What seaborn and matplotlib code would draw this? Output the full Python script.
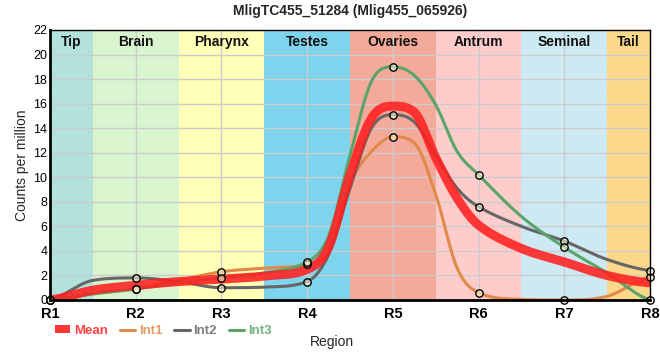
import numpy as np
import pandas as pd
import matplotlib
matplotlib.use("Agg")
import matplotlib.pyplot as plt
import seaborn as sns
from matplotlib.patches import Patch
from matplotlib.lines import Line2D

regions = ["R1", "R2", "R3", "R4", "R5", "R6", "R7", "R8"]
# values at the regions (marker points)
int1 = [0.0, 0.9, 2.3, 2.9, 13.3, 0.6, 0.0, 1.9]
int2 = [0.0, 1.8, 1.0, 1.5, 15.1, 7.6, 4.8, 2.4]
int3 = [0.0, 0.9, 1.8, 3.1, 19.0, 10.2, 4.3, 0.0]
mean = [0.0, 1.2, 1.7, 2.5, 15.8, 6.1, 3.1, 1.4]
# curve values read at the band borders (R1.5 ... R7.5)
int1_mid = [0.5, 1.6, 2.6, 9.5, 8.6, 0.05, 0.3]
int2_mid = [1.6, 1.5, 1.05, 9.1, 11.8, 6.0, 3.3]
int3_mid = [0.5, 1.4, 2.2, 11.8, 15.9, 6.8, 2.2]
mean_mid = [0.8, 1.5, 1.95, 10.2, 11.6, 4.2, 2.0]
# curve values read at R4.25, R4.75, R5.25, R5.75
quarter_pos = [3.25, 3.75, 4.25, 4.75]
int1_q = [4.0, 12.1, 12.8, 2.6]
int2_q = [3.7, 14.0, 14.5, 9.1]
int3_q = [5.2, 17.8, 18.3, 12.1]
mean_q = [4.3, 14.8, 15.3, 8.3]

band_names = ["Tip", "Brain", "Pharynx", "Testes", "Ovaries", "Antrum", "Seminal", "Tail"]
band_colors = ["#b3e2dd", "#d8f5d0", "#ffffb8", "#7dd4ec", "#f4aa9b", "#ffcccc", "#cdeaf4", "#fcd98a"]

series_colors = {"Mean": "#ff2020", "Int1": "#e08a4a", "Int2": "#666666", "Int3": "#5aa469"}


def knots(vals, mids, qs):
    xs = list(np.arange(len(vals), dtype=float)) + [i + 0.5 for i in range(len(mids))] + list(quarter_pos)
    ys = list(vals) + list(mids) + list(qs)
    order = np.argsort(xs)
    return np.array(xs)[order], np.array(ys, float)[order]


def smooth_curve(x, y, n=24):
    h = np.diff(x)
    d = np.diff(y) / h
    m = np.zeros_like(y)
    for i in range(1, len(y) - 1):
        if d[i - 1] * d[i] > 0:
            mi = (y[i + 1] - y[i - 1]) / (x[i + 1] - x[i - 1])
            lim = 3 * min(abs(d[i - 1]), abs(d[i]))
            m[i] = np.sign(mi) * min(abs(mi), lim)
    m[0] = d[0] * 0.5
    m[-1] = d[-1] * 0.5
    xs, ys = [], []
    for i in range(len(y) - 1):
        t = np.linspace(0, 1, n, endpoint=(i == len(y) - 2))
        h00 = 2 * t**3 - 3 * t**2 + 1
        h10 = t**3 - 2 * t**2 + t
        h01 = -2 * t**3 + 3 * t**2
        h11 = t**3 - t**2
        xs.append(x[i] + t * h[i])
        ys.append(h00 * y[i] + h10 * h[i] * m[i] + h01 * y[i + 1] + h11 * h[i] * m[i + 1])
    return np.concatenate(xs), np.concatenate(ys)


sns.set_theme(style="white")
plt.rcParams["font.family"] = ["Liberation Sans", "DejaVu Sans"]

fig = plt.figure(figsize=(6.6, 3.6), dpi=100)
ax = fig.add_axes([50 / 660, 60 / 360, 600 / 660, 270 / 360])

# background bands
edges = [0, 0.5, 1.5, 2.5, 3.5, 4.5, 5.5, 6.5, 7]
for i, (nm, c) in enumerate(zip(band_names, band_colors)):
    ax.axvspan(edges[i], edges[i + 1], color=c, zorder=0, lw=0)
    ax.text((edges[i] + edges[i + 1]) / 2, 21.0, nm, ha="center", va="center",
            fontsize=10, fontweight="bold", color="#111111", zorder=5)

for yv in range(0, 23, 2):
    ax.axhline(yv, color="#cccccc", lw=1, zorder=1)
for xv in range(8):
    ax.axvline(xv, color="#cccccc", lw=1, zorder=1)

rows = []
for name, vals, mids, qs in [("Int1", int1, int1_mid, int1_q),
                             ("Int2", int2, int2_mid, int2_q),
                             ("Int3", int3, int3_mid, int3_q)]:
    kx, ky = knots(vals, mids, qs)
    xs, ys = smooth_curve(kx, ky)
    rows.append(pd.DataFrame({"x": xs, "y": ys, "series": name}))
smooth = pd.concat(rows, ignore_index=True)
kx, ky = knots(mean, mean_mid, mean_q)
mx, my = smooth_curve(kx, ky)
mean_df = pd.DataFrame({"x": mx, "y": my, "series": "Mean"})

sns.lineplot(data=smooth, x="x", y="y", hue="series", palette=series_colors,
             lw=2.2, ax=ax, legend=False, zorder=3, sort=False, estimator=None)
sns.lineplot(data=mean_df, x="x", y="y", color=series_colors["Mean"], lw=6.5,
             alpha=0.88, ax=ax, legend=False, zorder=4, sort=False, estimator=None)

pts = pd.DataFrame({
    "x": list(range(8)) * 3,
    "y": int1 + int2 + int3,
})
sns.scatterplot(data=pts, x="x", y="y", s=28, facecolor=(1, 1, 0.85, 0.55),
                edgecolor="black", linewidth=1.0, ax=ax, zorder=6, clip_on=False)

ax.set_xlim(0, 7)
ax.set_ylim(0, 22)
ax.set_xticks(range(8))
ax.set_xticklabels(regions, fontsize=10.5, fontweight="bold")
ax.set_yticks(range(0, 23, 2))
ax.set_yticklabels([str(v) for v in range(0, 23, 2)], fontsize=9)
ax.tick_params(axis="both", length=0, pad=2, colors="black")
ax.tick_params(axis="x", length=4, width=1, direction="out", pad=1)
ax.set_xlabel("Region", fontsize=10)
ax.xaxis.set_label_coords(0.47, -0.13)
ax.set_ylabel("Counts per million", fontsize=10, labelpad=3)
ax.set_title("MligTC455_51284 (Mlig455_065926)", fontsize=10, fontweight="bold", pad=11)

for s in ["left", "bottom"]:
    ax.spines[s].set_linewidth(2.0)
    ax.spines[s].set_color("black")
for s in ["top", "right"]:
    ax.spines[s].set_linewidth(1.0)
    ax.spines[s].set_color("black")
for s in ax.spines.values():
    s.set_visible(True)
    s.set_zorder(7)

handles = [
    Patch(facecolor=series_colors["Mean"], edgecolor="none", alpha=0.9),
    Line2D([0], [0], color=series_colors["Int1"], lw=2.2),
    Line2D([0], [0], color=series_colors["Int2"], lw=2.2),
    Line2D([0], [0], color=series_colors["Int3"], lw=2.2),
]
labels = ["Mean", "Int1", "Int2", "Int3"]
leg = fig.legend(handles, labels, loc="center left", bbox_to_anchor=(55 / 660, 1 - 331 / 360),
                 ncol=4, frameon=False, fontsize=9.5, handlelength=1.15, handleheight=0.55,
                 handletextpad=0.3, columnspacing=0.9, borderaxespad=0, borderpad=0)
for t, nm in zip(leg.get_texts(), labels):
    t.set_color(series_colors[nm])
    t.set_fontweight("bold")
    t.set_alpha(0.85)

fig.savefig("out.png", dpi=100)
